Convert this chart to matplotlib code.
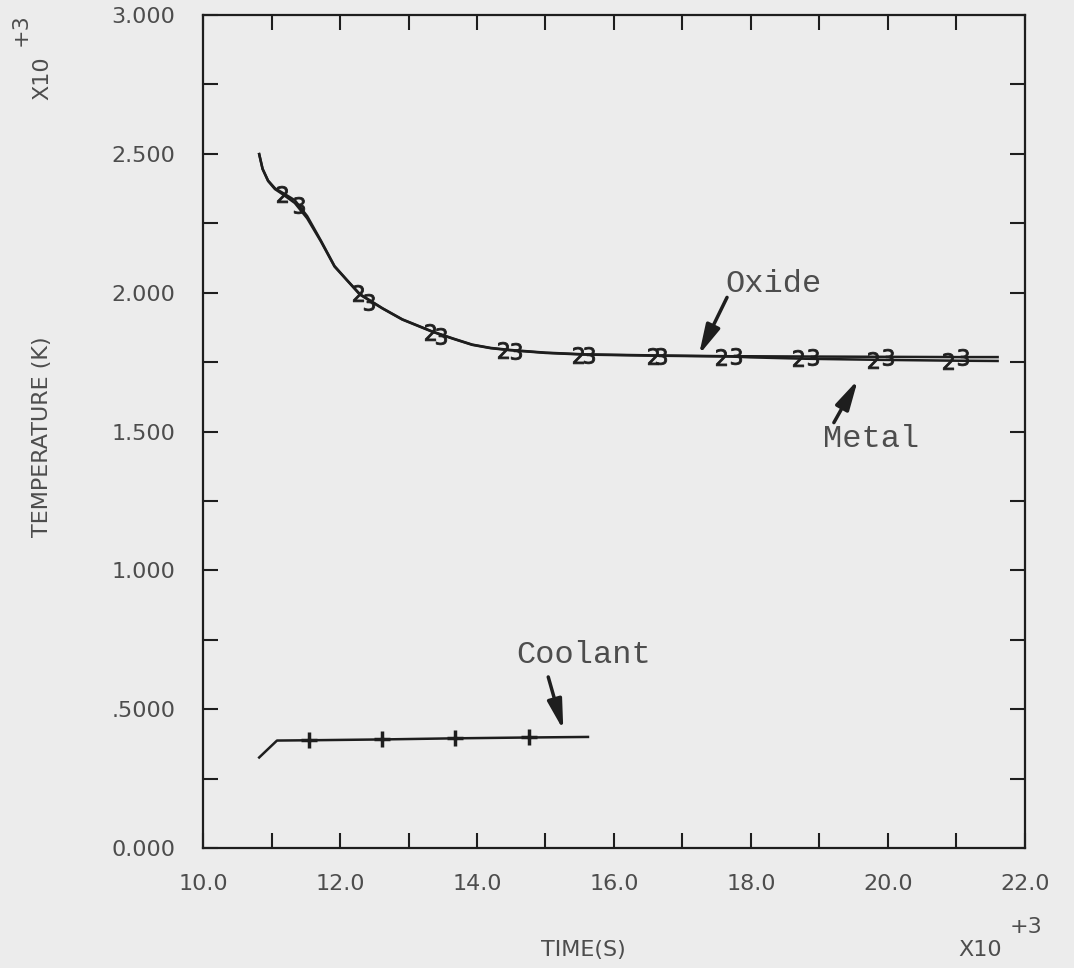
import matplotlib
matplotlib.use("Agg")
import matplotlib.pyplot as plt
import numpy as np
from matplotlib.ticker import MultipleLocator, FixedLocator, FixedFormatter

# values (time in s, temperature in K)
metal_t = [10820, 10870, 10950, 11050, 11160, 11340, 11520, 11720, 11920, 12100, 12290,
           12620, 12910, 13350, 13650, 13930, 14200, 14470, 15000, 15560, 16600, 17700,
           18000, 18800, 19900, 21000, 21600]
metal_T = [2499, 2445, 2402, 2373, 2355, 2323, 2268, 2185, 2094, 2045, 1993,
           1943, 1903, 1859, 1834, 1812, 1800, 1793, 1783, 1777, 1773, 1770,
           1767, 1762, 1758, 1755, 1754]
oxide_t = [10820, 10870, 10950, 11050, 11160, 11340, 11520, 11720, 11920, 12100, 12290,
           12620, 12910, 13350, 13650, 13930, 14200, 14470, 15000, 15560, 16600, 17700,
           18000, 18800, 19900, 21000, 21600]
oxide_T = [2499, 2446, 2404, 2376, 2360, 2333, 2276, 2188, 2096, 2046, 1995,
           1944, 1904, 1860, 1835, 1813, 1801, 1794, 1784, 1778, 1774, 1771,
           1771, 1770, 1769, 1768, 1768]

# plot symbols "2" (metal) and "3" (oxide)
mark2_t = [11160, 12270, 13310, 14380, 15480, 16570, 17560, 18690, 19780, 20880]
mark2_T = [2355, 1997, 1860, 1795, 1777, 1773, 1770, 1763, 1759, 1755]
mark3_t = [11400, 12430, 13480, 14570, 15640, 16690, 17780, 18910, 20000, 21100]
mark3_T = [2315, 1965, 1845, 1791, 1777, 1773, 1771, 1770, 1769, 1768]

coolant_t = [10820, 11080, 11550, 12620, 13680, 14760, 15620]
coolant_T = [326, 387, 388, 391, 395, 398, 400]
coolant_marks = [2, 3, 4, 5]

y_ticks = [0, 500, 1000, 1500, 2000, 2500, 3000]
y_tick_labels = ["0.000", ".5000", "1.000", "1.500", "2.000", "2.500", "3.000"]
x_ticks = [10000, 12000, 14000, 16000, 18000, 20000, 22000]
x_tick_labels = ["10.0", "12.0", "14.0", "16.0", "18.0", "20.0", "22.0"]

bg = "#ececec"
ink = "#1e1e1e"
txt = "#4d4d4d"

fig = plt.figure(figsize=(10.74, 9.68), dpi=100, facecolor=bg)
ax = fig.add_axes([203 / 1074, 1 - 848 / 968, 822 / 1074, 833 / 968])
ax.set_facecolor(bg)

ax.plot(metal_t, metal_T, color=ink, lw=1.8)
ax.plot(oxide_t, oxide_T, color=ink, lw=1.8)
ax.plot(mark2_t, mark2_T, ls="none", marker="$2$", ms=12, color=ink, mew=0.6)
ax.plot(mark3_t, mark3_T, ls="none", marker="$3$", ms=12, color=ink, mew=0.6)
ax.plot(coolant_t, coolant_T, color=ink, lw=1.8,
        marker="+", ms=11, mew=2.5, markevery=coolant_marks)

ax.set_xlim(10000, 22000)
ax.set_ylim(0, 3000)
ax.xaxis.set_major_locator(FixedLocator(x_ticks))
ax.xaxis.set_major_formatter(FixedFormatter(x_tick_labels))
ax.xaxis.set_minor_locator(MultipleLocator(1000))
ax.yaxis.set_major_locator(FixedLocator(y_ticks))
ax.yaxis.set_major_formatter(FixedFormatter(y_tick_labels))
ax.yaxis.set_minor_locator(MultipleLocator(250))

ax.tick_params(which="both", direction="in", length=11, width=1.5,
               top=True, right=True, color=ink)
ax.tick_params(axis="x", labelsize=16, labelcolor=txt, pad=19)
ax.tick_params(axis="y", labelsize=16, labelcolor=txt, pad=20)
for s in ax.spines.values():
    s.set_linewidth(1.6)
    s.set_color(ink)

arrow = dict(arrowstyle="-|>,head_length=0.9,head_width=0.22", lw=2.5,
             color=ink, shrinkA=0, shrinkB=0, mutation_scale=20)
mono = dict(family="Liberation Mono", fontsize=23, color=txt, ha="center", va="center")

ax.annotate("", xy=(17240, 1776), xytext=(17650, 1983), arrowprops=arrow)
ax.text(18330, 2031, "Oxide", **mono)
ax.annotate("", xy=(19560, 1686), xytext=(19210, 1532), arrowprops=arrow)
ax.text(19750, 1474, "Metal", **mono)
ax.annotate("", xy=(15260, 425), xytext=(15040, 616), arrowprops=arrow)
ax.text(15550, 694, "Coolant", **mono)

lab = dict(fontsize=16, color=txt, ha="center", va="center")
fig.text(42 / 1074, 1 - 437 / 968, "TEMPERATURE (K)", rotation=90, **lab)
fig.text(42 / 1074, 1 - 78 / 968, "X10", rotation=90, **lab)
fig.text(21 / 1074, 1 - 30 / 968, "+3", rotation=90, **lab)
fig.text(583 / 1074, 1 - 950 / 968, "TIME(S)", **lab)
fig.text(980 / 1074, 1 - 950 / 968, "X10", **lab)
fig.text(1026 / 1074, 1 - 927 / 968, "+3", **lab)

fig.savefig("out.png", dpi=100, facecolor=bg)
